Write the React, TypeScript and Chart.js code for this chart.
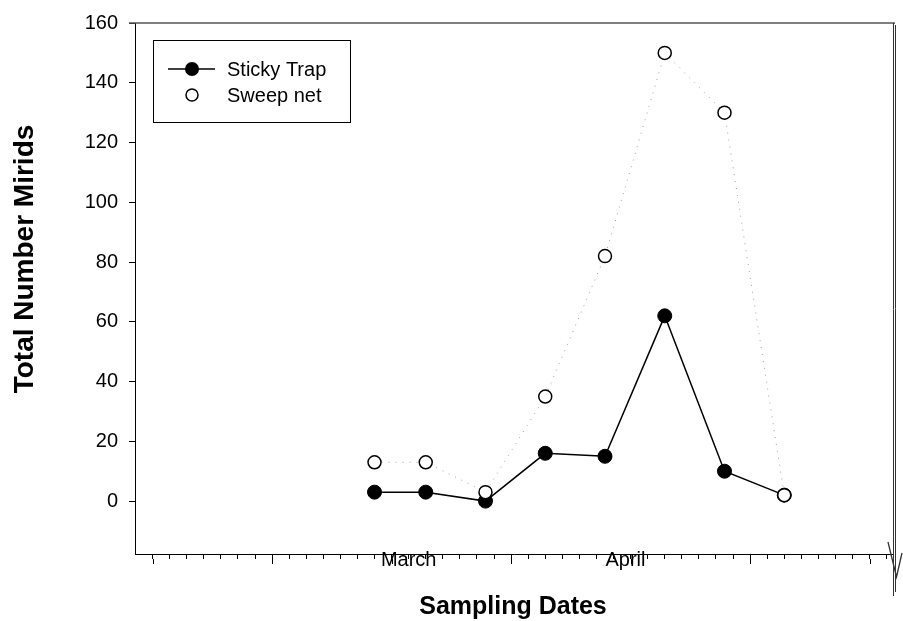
import React, { useEffect, useRef } from "react";
import { Chart, registerables } from "chart.js";

Chart.register(...registerables);

// ---- data ----
const xDays = [13, 16, 19.5, 23, 26.5, 30, 33.5, 37];
const stickyTrap = [3, 3, 0, 16, 15, 62, 10, 2];
const sweepNet = [13, 13, 3, 35, 82, 150, 130, 2];
const seriesNames = ["Sticky Trap", "Sweep net"];
const yTicks = [0, 20, 40, 60, 80, 100, 120, 140, 160];
const xTickValues = Array.from({ length: 44 }, (_, i) => i);
const monthLabels = ["March", "April"];
const monthPositions = [15, 27.7];
const majorTickEvery = 7;
const yTitle = "Total Number Mirids";
const xTitle = "Sampling Dates";

const FONT = "'Liberation Sans', Arial, Helvetica, sans-serif";

const decorPlugin = {
  id: "decor",
  afterDraw(chart: any) {
    const { ctx, chartArea: ca, scales } = chart;
    const xs = scales.x;
    ctx.save();
    // top border (gray)
    ctx.strokeStyle = "#555";
    ctx.lineWidth = 1.5;
    ctx.beginPath();
    ctx.moveTo(ca.left - 6, ca.top);
    ctx.lineTo(ca.right + 2, ca.top);
    ctx.stroke();
    // right border artifact (double line + V)
    ctx.strokeStyle = "#333";
    ctx.lineWidth = 1;
    ctx.beginPath();
    ctx.moveTo(ca.right + 0.5, ca.top);
    ctx.lineTo(ca.right + 0.5, ca.bottom + 42);
    ctx.moveTo(ca.right + 2.5, ca.top + 2);
    ctx.lineTo(ca.right + 2.5, ca.bottom + 38);
    ctx.stroke();
    ctx.lineWidth = 1.3;
    ctx.beginPath();
    ctx.moveTo(ca.right - 5, ca.bottom - 12);
    ctx.lineTo(ca.right + 3.5, ca.bottom + 23);
    ctx.lineTo(ca.right + 9, ca.bottom - 1);
    ctx.stroke();
    // major ticks longer
    ctx.strokeStyle = "#000";
    ctx.lineWidth = 1;
    ctx.beginPath();
    for (const v of xTickValues) {
      if (v % majorTickEvery === 0) {
        const px = Math.round(xs.getPixelForValue(v)) + 0.5;
        ctx.moveTo(px, ca.bottom + 5);
        ctx.lineTo(px, ca.bottom + 10);
      }
    }
    ctx.stroke();
    // month labels (overlapping the axis line, as in the original)
    ctx.fillStyle = "#000";
    ctx.font = `20px ${FONT}`;
    ctx.textAlign = "center";
    ctx.textBaseline = "middle";
    monthLabels.forEach((m, i) => {
      ctx.fillText(m, xs.getPixelForValue(monthPositions[i]), ca.bottom + 6);
    });
    // y axis title
    ctx.save();
    ctx.translate(33, 259);
    ctx.rotate(-Math.PI / 2);
    ctx.font = `bold 28px ${FONT}`;
    ctx.textAlign = "center";
    ctx.textBaseline = "alphabetic";
    ctx.fillText(yTitle, 0, 0);
    ctx.restore();
    // x axis title
    ctx.font = `bold 25px ${FONT}`;
    ctx.textAlign = "center";
    ctx.textBaseline = "middle";
    ctx.fillText(xTitle, (ca.left + ca.right) / 2 - 1, 607);
    // legend
    const bx = ca.left + 18;
    const by = ca.top + 17;
    ctx.lineWidth = 1;
    ctx.strokeStyle = "#000";
    ctx.strokeRect(bx + 0.5, by + 0.5, 197, 82);
    const sx = bx + 39;
    const rows = [by + 29, by + 55];
    ctx.lineWidth = 1.5;
    ctx.beginPath();
    ctx.moveTo(bx + 15, rows[0]);
    ctx.lineTo(bx + 62, rows[0]);
    ctx.stroke();
    ctx.beginPath();
    ctx.arc(sx, rows[0], 7, 0, Math.PI * 2);
    ctx.fillStyle = "#000";
    ctx.fill();
    ctx.beginPath();
    ctx.arc(sx, rows[1], 6, 0, Math.PI * 2);
    ctx.fillStyle = "#fff";
    ctx.fill();
    ctx.lineWidth = 1.5;
    ctx.stroke();
    ctx.fillStyle = "#000";
    ctx.textAlign = "left";
    ctx.textBaseline = "middle";
    ctx.font = `20px ${FONT}`;
    seriesNames.forEach((n, i) => ctx.fillText(n, bx + 74, rows[i] + 1));
    ctx.restore();
  },
};

export default function App() {
  const ref = useRef<HTMLCanvasElement | null>(null);
  useEffect(() => {
    document.body.style.margin = "0";
    const canvas = ref.current;
    if (!canvas) return;
    const chart = new Chart(canvas, {
      type: "line",
      data: {
        datasets: [
          {
            label: seriesNames[0],
            data: xDays.map((x, i) => ({ x, y: stickyTrap[i] })),
            borderColor: "#000",
            borderWidth: 1.5,
            backgroundColor: "#000",
            pointBackgroundColor: "#000",
            pointBorderColor: "#000",
            pointRadius: 7,
            pointBorderWidth: 1,
            order: 1,
          },
          {
            label: seriesNames[1],
            data: xDays.map((x, i) => ({ x, y: sweepNet[i] })),
            borderColor: "#a0a0a0",
            borderWidth: 1,
            borderDash: [1, 6],
            backgroundColor: "#fff",
            pointBackgroundColor: "#fff",
            pointBorderColor: "#000",
            pointRadius: 6.5,
            pointBorderWidth: 1.5,
            order: 0,
          },
        ],
      },
      options: {
        animation: false,
        responsive: false,
        layout: { padding: { top: 23, right: 10, left: 0, bottom: 0 } },
        plugins: { legend: { display: false }, tooltip: { enabled: false } },
        scales: {
          x: {
            type: "linear",
            min: -1.03,
            max: 43.37,
            afterBuildTicks: (s: any) => {
              s.ticks = xTickValues.map((v) => ({ value: v }));
            },
            afterFit: (s: any) => {
              s.height = 67;
            },
            ticks: { autoSkip: false, maxRotation: 0, callback: () => "", font: { size: 20, family: FONT } },
            grid: { drawOnChartArea: false, drawTicks: true, tickLength: 5, color: "#000" },
            border: { display: true, color: "#000", width: 1 },
            title: { display: false },
          },
          y: {
            type: "linear",
            min: -17.7,
            max: 160,
            afterBuildTicks: (s: any) => {
              s.ticks = yTicks.map((v) => ({ value: v }));
            },
            afterFit: (s: any) => {
              s.width = 135;
            },
            ticks: { color: "#000", padding: 11, font: { size: 20, family: FONT } },
            grid: { drawOnChartArea: false, drawTicks: true, tickLength: 6, color: "#000" },
            border: { display: true, color: "#000", width: 1 },
            title: { display: false },
          },
        },
      },
      plugins: [decorPlugin],
    });
    return () => chart.destroy();
  }, []);
  return (
    <div style={{ width: 903, height: 621, background: "#fff" }}>
      <canvas ref={ref} width={903} height={621} style={{ display: "block" }} />
    </div>
  );
}
